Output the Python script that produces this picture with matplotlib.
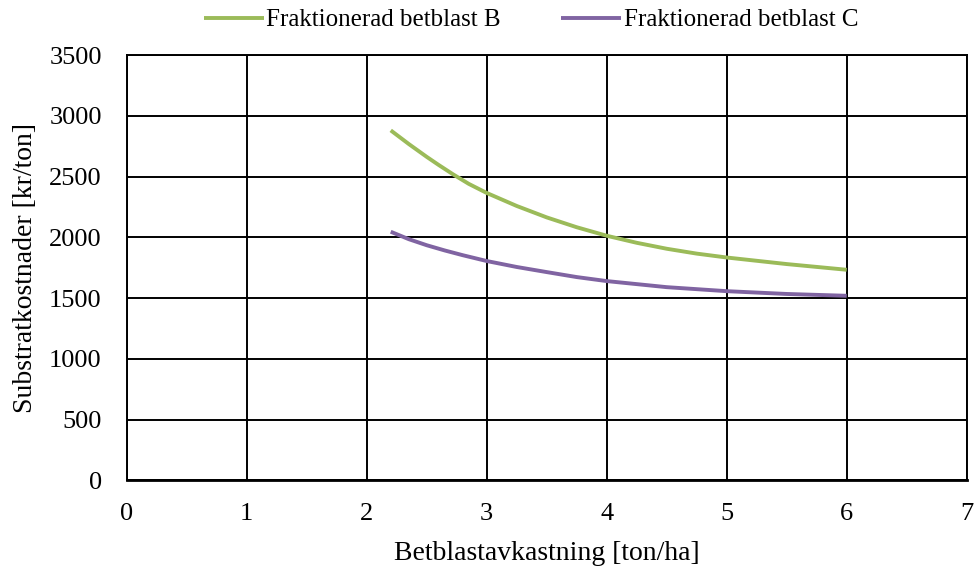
import matplotlib
matplotlib.use("Agg")
import matplotlib.pyplot as plt

# Värden
x_b = [2.2, 2.35, 2.5, 2.6, 2.72, 2.85, 3.0, 3.25, 3.5, 3.75, 4.0, 4.25, 4.5, 4.75, 5.0, 5.5, 6.0]
y_b = [2880, 2768, 2662, 2595, 2518, 2440, 2365, 2258, 2164, 2083, 2013, 1955, 1906, 1866, 1834, 1780, 1733]
x_c = [2.2, 2.35, 2.5, 2.65, 2.8, 3.0, 3.25, 3.5, 3.75, 4.0, 4.5, 5.0, 5.5, 6.0]
y_c = [2046, 1985, 1935, 1892, 1853, 1805, 1756, 1714, 1673, 1640, 1590, 1557, 1534, 1519]
etiketter = ["Fraktionerad betblast B", "Fraktionerad betblast C"]

plt.rcParams['font.family'] = ['Liberation Serif', 'DejaVu Serif']

fig = plt.figure(figsize=(9.75, 5.69), dpi=100)
ax = fig.add_axes([0.130, 0.1557, 0.8615, 0.7476])

ax.plot(x_b, y_b, color='#9BBB59', lw=2.8, label=etiketter[0], solid_capstyle='butt')
ax.plot(x_c, y_c, color='#8064A2', lw=2.8, label=etiketter[1], solid_capstyle='butt')

ax.set_xlim(0, 7)
ax.set_ylim(0, 3500)
ax.set_xticks(range(0, 8))
ax.set_yticks(range(0, 3501, 500))
ax.grid(True, color='black', lw=1.4)
for s in ax.spines.values():
    s.set_color('black')
    s.set_linewidth(1.4)
ax.spines['bottom'].set_linewidth(2)
ax.tick_params(axis='both', length=0, labelsize=19)
ax.tick_params(axis='x', pad=16)
ax.tick_params(axis='y', pad=18)

ax.set_xlabel("Betblastavkastning [ton/ha]", fontsize=20, labelpad=12)
ax.set_ylabel("Substratkostnader [kr/ton]", fontsize=20, labelpad=8)

fig.legend(loc='center', bbox_to_anchor=(531 / 975, 1 - 20 / 569), ncol=2,
           frameon=False, fontsize=18, handlelength=2.4, handletextpad=0.1,
           columnspacing=2.4)

fig.savefig("out.png", dpi=100)
